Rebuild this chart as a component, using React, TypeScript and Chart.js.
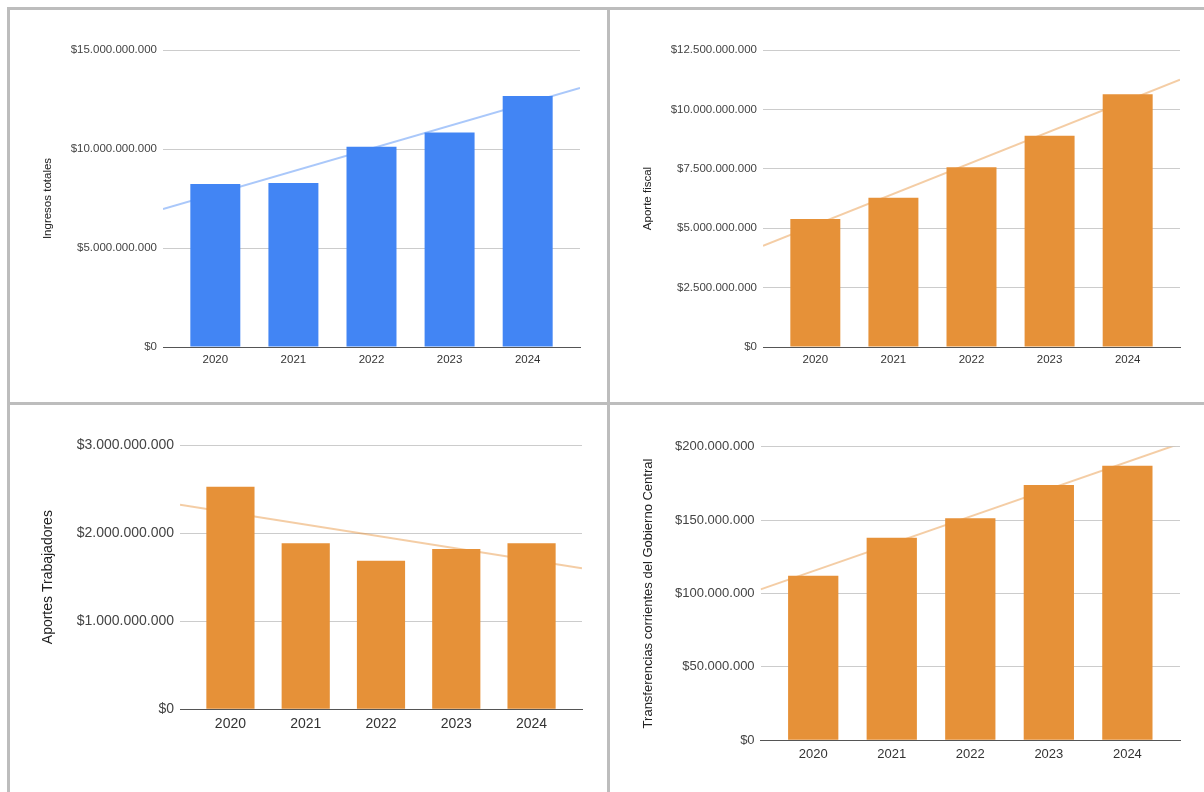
import React, { useEffect, useRef } from 'react';
import { Chart, registerables } from 'chart.js';

Chart.register(...registerables);

// ---------- data ----------
const years = [2020, 2021, 2022, 2023, 2024];
const yearLabels = ['2020', '2021', '2022', '2023', '2024'];

const ingresosTotales = [8.23e9, 8.28e9, 10.11e9, 10.83e9, 12.68e9];
const aporteFiscal = [5.39e9, 6.28e9, 7.57e9, 8.89e9, 10.64e9];
const aportesTrabajadores = [2.527e9, 1.884e9, 1.687e9, 1.82e9, 1.884e9];
const transferencias = [112.1e6, 138.0e6, 151.2e6, 173.9e6, 187.1e6];

const ticksIngresos = [0, 5e9, 10e9, 15e9];
const ticksAporteFiscal = [0, 2.5e9, 5e9, 7.5e9, 10e9, 12.5e9];
const ticksAportesTrab = [0, 1e9, 2e9, 3e9];
const ticksTransferencias = [0, 50e6, 100e6, 150e6, 200e6];

const titleIngresos = 'Ingresos totales';
const titleAporteFiscal = 'Aporte fiscal';
const titleAportesTrab = 'Aportes Trabajadores';
const titleTransferencias = 'Transferencias corrientes del Gobierno Central';

// ---------- helpers ----------
const BLUE = '#4285f4';
const ORANGE = '#e69138';
const BLUE_TREND = 'rgba(66,133,244,0.45)';
const ORANGE_TREND = 'rgba(230,145,56,0.45)';
const FONT = '"Liberation Sans", Arial, sans-serif';
const X_PAD = 0.67;

function money(v: number): string {
  return '$' + String(Math.round(v)).replace(/\B(?=(\d{3})+(?!\d))/g, '.');
}

function linFit(xs: number[], ys: number[]) {
  const n = xs.length;
  const mx = xs.reduce((a, b) => a + b, 0) / n;
  const my = ys.reduce((a, b) => a + b, 0) / n;
  let num = 0;
  let den = 0;
  for (let i = 0; i < n; i++) {
    num += (xs[i] - mx) * (ys[i] - my);
    den += (xs[i] - mx) * (xs[i] - mx);
  }
  const slope = num / den;
  return (x: number) => my + slope * (x - mx);
}

type Panel = {
  values: number[];
  ticks: number[];
  title: string;
  color: string;
  trend: string;
  left: number;
  top: number;
  width: number;
  height: number;
  fontSize: number;
  padLeft: number;
  axisWidth: number;
  padRight: number;
  padTop: number;
  padBottom: number;
};

const panels: Panel[] = [
  {
    values: ingresosTotales, ticks: ticksIngresos, title: titleIngresos, color: BLUE, trend: BLUE_TREND,
    left: 10, top: 10, width: 597, height: 392, fontSize: 11.5,
    padLeft: 31, axisWidth: 122, padRight: 27, padTop: 40, padBottom: 25,
  },
  {
    values: aporteFiscal, ticks: ticksAporteFiscal, title: titleAporteFiscal, color: ORANGE, trend: ORANGE_TREND,
    left: 610, top: 10, width: 594, height: 392, fontSize: 11.5,
    padLeft: 31, axisWidth: 122, padRight: 24, padTop: 40, padBottom: 25,
  },
  {
    values: aportesTrabajadores, ticks: ticksAportesTrab, title: titleAportesTrab, color: ORANGE, trend: ORANGE_TREND,
    left: 10, top: 405, width: 597, height: 387, fontSize: 14,
    padLeft: 29.4, axisWidth: 140.6, padRight: 25, padTop: 40, padBottom: 52.7,
  },
  {
    values: transferencias, ticks: ticksTransferencias, title: titleTransferencias, color: ORANGE, trend: ORANGE_TREND,
    left: 610, top: 405, width: 594, height: 387, fontSize: 13,
    padLeft: 30.7, axisWidth: 119.9, padRight: 24, padTop: 41.7, padBottom: 21.7,
  },
];

function ChartPanel({ p }: { p: Panel }) {
  const ref = useRef<HTMLCanvasElement | null>(null);

  useEffect(() => {
    if (!ref.current) return;
    const xMin = years[0] - X_PAD;
    const xMax = years[years.length - 1] + X_PAD;
    const fit = linFit(years, p.values);
    const font = { family: FONT, size: p.fontSize };
    const chart = new Chart(ref.current, {
      type: 'bar',
      data: {
        datasets: [
          {
            type: 'line',
            data: [
              { x: xMin, y: fit(xMin) },
              { x: xMax, y: fit(xMax) },
            ],
            borderColor: p.trend,
            borderWidth: 2,
            pointRadius: 0,
            order: 2,
          } as any,
          {
            type: 'bar',
            data: years.map((x, i) => ({ x, y: p.values[i] })),
            backgroundColor: p.color,
            borderWidth: 0,
            barPercentage: 0.64,
            categoryPercentage: 1,
            order: 1,
          } as any,
        ],
      },
      options: {
        animation: false,
        responsive: false,
        maintainAspectRatio: false,
        layout: {
          padding: { left: p.padLeft, right: p.padRight, top: p.padTop, bottom: p.padBottom },
        },
        plugins: {
          legend: { display: false },
          tooltip: { enabled: false },
        },
        scales: {
          x: {
            type: 'linear',
            min: xMin,
            max: xMax,
            offset: false,
            grid: { display: false },
            border: { display: true, color: '#555', width: 1 },
            ticks: {
              padding: -2,
              font,
              color: '#333',
              callback: (v: any) => {
                const i = years.indexOf(Number(v));
                return i >= 0 ? yearLabels[i] : '';
              },
            },
            afterBuildTicks: (s: any) => {
              s.ticks = years.map((v) => ({ value: v }));
            },
            afterFit: (s: any) => {
              s.height = 30;
            },
          },
          y: {
            type: 'linear',
            min: 0,
            max: p.ticks[p.ticks.length - 1],
            grid: {
              drawTicks: false,
              color: (ctx: any) => (ctx.tick && ctx.tick.value === 0 ? '#555' : '#cccccc'),
              lineWidth: 1,
            },
            border: { display: false },
            ticks: {
              padding: 6,
              font,
              color: '#444',
              callback: (v: any) => money(Number(v)),
            },
            afterBuildTicks: (s: any) => {
              s.ticks = p.ticks.map((v) => ({ value: v }));
            },
            afterFit: (s: any) => {
              s.width = p.axisWidth;
            },
            title: {
              display: true,
              text: p.title,
              font,
              color: '#222',
              padding: 0,
            },
          },
        },
      } as any,
    });
    return () => chart.destroy();
  }, [p]);

  return (
    <canvas
      ref={ref}
      width={p.width}
      height={p.height}
      style={{
        position: 'absolute',
        left: p.left,
        top: p.top,
        width: p.width,
        height: p.height,
        display: 'block',
      }}
    />
  );
}

const BORDER = '#bdbdbd';

export default function App() {
  return (
    <div
      style={{
        position: 'fixed',
        left: 0,
        top: 0,
        width: 1204,
        height: 792,
        overflow: 'hidden',
        background: '#fff',
      }}
    >
      <div style={{ position: 'absolute', left: 7, top: 7, width: 1197, height: 3, background: BORDER }} />
      <div style={{ position: 'absolute', left: 7, top: 7, width: 3, height: 785, background: BORDER }} />
      <div style={{ position: 'absolute', left: 607, top: 7, width: 3, height: 785, background: BORDER }} />
      <div style={{ position: 'absolute', left: 7, top: 402, width: 1197, height: 3, background: BORDER }} />
      {panels.map((p, i) => (
        <ChartPanel key={i} p={p} />
      ))}
    </div>
  );
}
